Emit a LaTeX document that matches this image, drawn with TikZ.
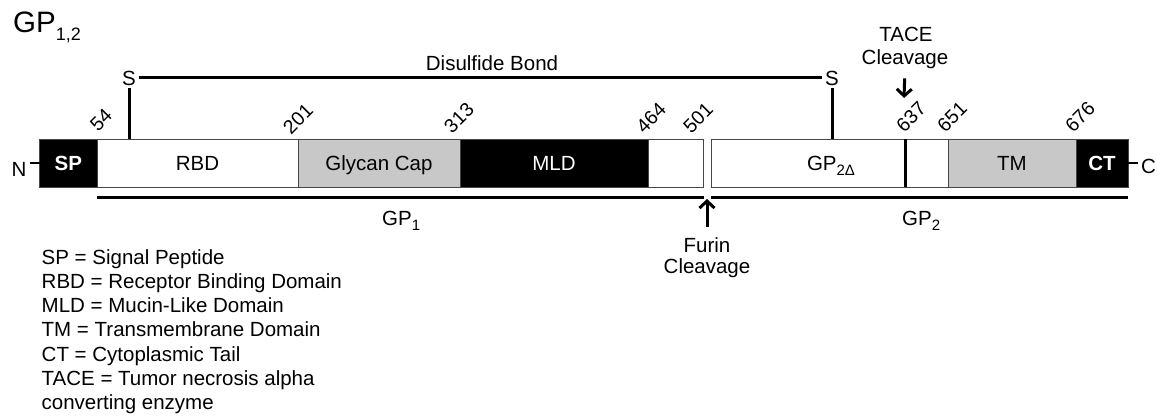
\documentclass[tikz,border=0pt]{standalone}
\usepackage{fontspec}
\setmainfont{Liberation Sans}
\usetikzlibrary{arrows.meta}
\definecolor{domgray}{RGB}{200,200,200}
\definecolor{edgegray}{RGB}{70,70,70}
\begin{document}
\begin{tikzpicture}[x=1pt,y=-1pt,
  dom/.style={draw=edgegray, line width=1pt, minimum height=48pt, inner sep=0pt, outer sep=0pt,
    anchor=north west, text height=14.5pt, text depth=0pt, font=\fontsize{20.5}{24}\selectfont},
  darkdom/.style={dom, fill=black, text=white},
  lightdom/.style={dom, fill=domgray},
  whitedom/.style={dom, fill=white},
  txt/.style={font=\fontsize{20.5}{24}\selectfont, inner sep=0pt},
  num/.style={font=\fontsize{19.5}{20}\selectfont, rotate=45, inner sep=0pt},
  bold/.style={line width=3pt},
  arr/.style={line width=3pt, -{Straight Barb[length=7pt,width=15pt,line width=3pt]}},
  termline/.style={line width=2pt},
  legend/.style={txt, anchor=base west}
]
\useasboundingbox (0,0) rectangle (1157,416);

% title
\node[anchor=base west, inner sep=0pt, font=\fontsize{29.5}{32}\selectfont] (title) at (13,32)
  {GP\raisebox{-8pt}{\fontsize{18}{18}\selectfont 1,2}};

% domains
\node[darkdom, font=\fontsize{20.5}{24}\selectfont\bfseries, minimum width=57.5pt] (sp) at (39.5,139) {SP};
\node[whitedom, minimum width=201pt] (rbd) at (97,139) {RBD};
\node[lightdom, minimum width=162pt] (gc) at (298,139) {Glycan Cap};
\node[darkdom, minimum width=188pt] (mld) at (460,139) {MLD};
\node[whitedom, minimum width=55.5pt] (b1) at (648,139) {};
\node[whitedom, minimum width=194pt] (gp2d) at (711,139) {};
\node[whitedom, minimum width=43pt] (b2) at (905,139) {};
\node[lightdom, minimum width=128pt] (tm) at (948,139) {TM};
\node[darkdom, font=\fontsize{20.5}{24}\selectfont\bfseries, minimum width=52pt] (ct) at (1076,139) {CT};
\node[txt, anchor=base] (gp2dlab) at (831,170) {GP\raisebox{-5pt}{\fontsize{15}{15}\selectfont 2Δ}};
\draw[bold] (gp2d.north east) -- (gp2d.south east);

% termini
\node[txt, inner sep=3pt] (nterm) at (19,169) {N};
\draw[termline] (sp.west) -- (sp.west -| nterm.east);
\node[txt, inner sep=3pt] (cterm) at (1148.5,166) {C};
\draw[termline] (ct.east) -- (ct.east -| cterm.west);

% residue numbers
\node[num] (n54) at (101,120) {54};
\node[num] (n201) at (298,119) {201};
\node[num] (n313) at (459,118) {313};
\node[num] (n464) at (651,118) {464};
\node[num] (n501) at (698,118) {501};
\node[num] (n637) at (911,117) {637};
\node[num] (n651) at (952,117) {651};
\node[num] (n676) at (1080,117) {676};

% disulfide bond
\node[txt, anchor=base, inner sep=3pt] (sl) at (129,85) {S};
\node[txt, anchor=base, inner sep=3pt] (sr) at (832,85) {S};
\draw[bold] (sl.south) -- (sl.south |- rbd.north);
\draw[bold] (sr.south) -- (sr.south |- gp2d.north);
\draw[bold] (sl.east) -- (sr.west);
\node[txt, anchor=base] (dslab) at (492,70) {Disulfide Bond};

% GP1 / GP2 spans
\coordinate (g1s) at (97,197);
\coordinate (g1e) at (703.5,197);
\coordinate (g2s) at (711,197);
\coordinate (g2e) at (1128,197);
\draw[bold] (g1s) -- (g1e);
\draw[bold] (g2s) -- (g2e);
\node[txt, anchor=base west] (gp1lab) at (382,225) {GP\raisebox{-5pt}{\fontsize{15}{15}\selectfont 1}};
\node[txt, anchor=base west] (gp2lab) at (902,225) {GP\raisebox{-5pt}{\fontsize{15}{15}\selectfont 2}};

% furin cleavage
\node[txt, anchor=base] (furin) at (707,252) {Furin};
\node[txt, anchor=base] (furcl) at (707,273) {Cleavage};
\coordinate (furtip) at (707,199);
\draw[arr, shorten <=10pt] (furin.north) -- (furtip);

% TACE cleavage
\node[txt, anchor=base] (tace) at (906,41) {TACE};
\node[txt, anchor=base] (tacecl) at (905,64) {Cleavage};
\coordinate (tacetip) at (904,98);
\draw[arr, shorten <=10pt] (tacecl.south) -- (tacetip);

% legend
\node[legend] (l1) at (41.5,264) {SP = Signal Peptide};
\node[legend] (l2) at (41.5,288.3) {RBD = Receptor Binding Domain};
\node[legend] (l3) at (41.5,312.6) {MLD = Mucin-Like Domain};
\node[legend] (l4) at (41.5,336.9) {TM = Transmembrane Domain};
\node[legend] (l5) at (41.5,361.2) {CT = Cytoplasmic Tail};
\node[legend] (l6) at (41.5,385.5) {TACE = Tumor necrosis alpha};
\node[legend] (l7) at (41.5,409.8) {converting enzyme};
\end{tikzpicture}
\end{document}
